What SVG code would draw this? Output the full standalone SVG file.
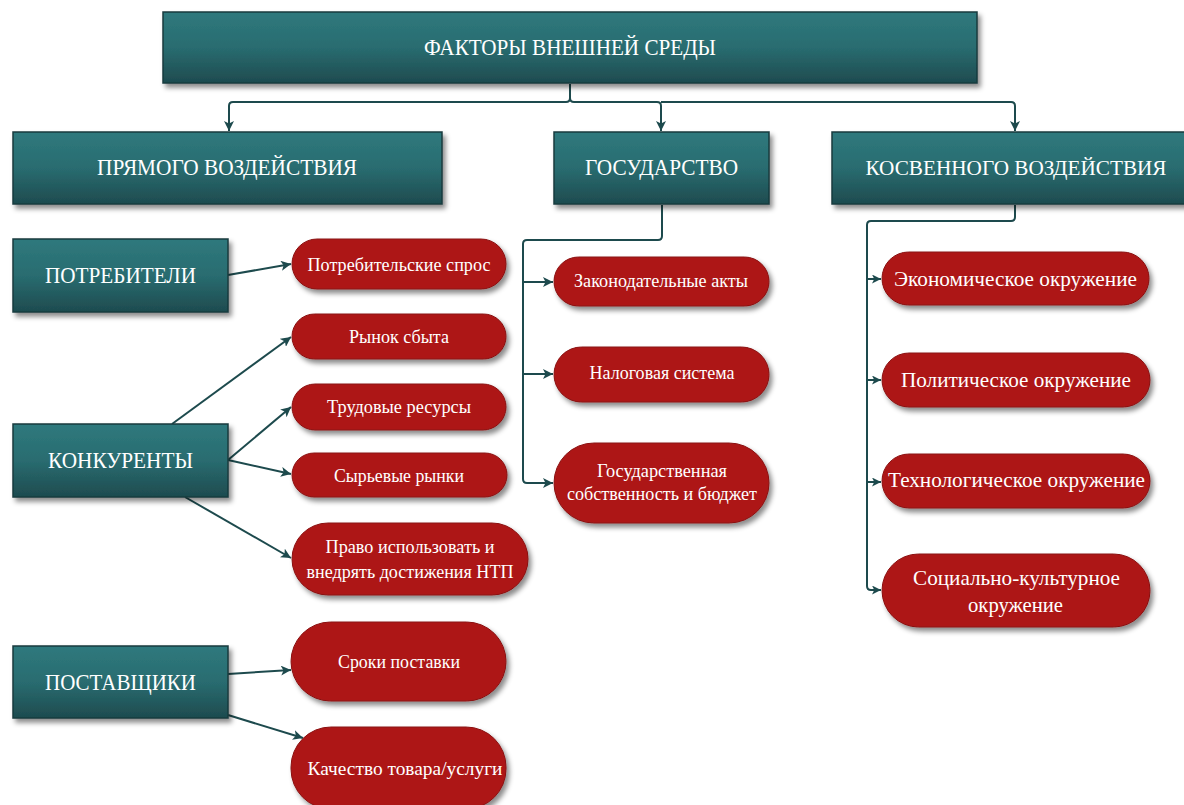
<svg xmlns="http://www.w3.org/2000/svg" width="1184" height="805" viewBox="0 0 1184 805">
<defs>
<linearGradient id="teal" x1="0" y1="0" x2="0" y2="1">
<stop offset="0" stop-color="#2f797d"/>
<stop offset="0.5" stop-color="#296c70"/>
<stop offset="1" stop-color="#1e4b4f"/>
</linearGradient>
<filter id="sh" x="-10%" y="-20%" width="125%" height="150%">
<feDropShadow dx="3" dy="4" stdDeviation="2.5" flood-color="#000" flood-opacity="0.45"/>
</filter>
<marker id="ah" viewBox="0 0 10 10" refX="10" refY="5" markerWidth="10" markerHeight="10" markerUnits="userSpaceOnUse" orient="auto">
<path d="M0,0 L10,5 L0,10 L2.5,5 Z" fill="#1d4a4d"/>
</marker>
<marker id="ahs" viewBox="0 0 10 10" refX="10" refY="5" markerWidth="9" markerHeight="9" markerUnits="userSpaceOnUse" orient="auto">
<path d="M0,0 L10,5 L0,10 L2.5,5 Z" fill="#1d4a4d"/>
</marker>
</defs>
<style>
.t{fill:url(#teal);stroke:#173b3e;stroke-width:1.5;filter:url(#sh)}
.r{fill:#ad1515;stroke:#8a1212;stroke-width:1;filter:url(#sh)}
.tt{font-family:"Liberation Serif","Times New Roman",serif;fill:#ffffff;text-anchor:middle;font-size:24px}
.rt{font-family:"Liberation Serif","Times New Roman",serif;fill:#ffffff;text-anchor:middle;font-size:18px}
.rt2{font-family:"Liberation Serif","Times New Roman",serif;fill:#ffffff;text-anchor:middle;font-size:22px}
.c{fill:none;stroke:#1d4a4d;stroke-width:2}
</style>
<rect width="1184" height="805" fill="#ffffff"/>
<g id="connectors">
<path class="c" d="M570,84 V98 Q570,102 566,102 H233 Q229,102 229,106 V131" marker-end="url(#ah)"/>
<path class="c" d="M570,98 Q570,102 574,102 H657 Q661,102 661,106 V131" marker-end="url(#ah)"/>
<path class="c" d="M661,102 H1011 Q1015,102 1015,106 V131" marker-end="url(#ah)"/>
<path class="c" d="M662,205 V236 Q662,240 658,240 H527 Q523,240 523,244 V479 Q523,483 527,483 H553" marker-end="url(#ah)"/>
<path class="c" d="M523,282 H553" marker-end="url(#ah)"/>
<path class="c" d="M523,374 H553" marker-end="url(#ah)"/>
<path class="c" d="M1015,205 V217 Q1015,221 1011,221 H871 Q867,221 867,225 V586 Q867,590 871,590 H881" marker-end="url(#ahs)"/>
<path class="c" d="M867,279 H881" marker-end="url(#ahs)"/>
<path class="c" d="M867,380 H881" marker-end="url(#ahs)"/>
<path class="c" d="M867,482 H881" marker-end="url(#ahs)"/>
<path class="c" d="M228,275 L291,264" marker-end="url(#ah)"/>
<path class="c" d="M172,424 L291,337" marker-end="url(#ah)"/>
<path class="c" d="M228,460 L291,407" marker-end="url(#ah)"/>
<path class="c" d="M228,460 L291,474" marker-end="url(#ah)"/>
<path class="c" d="M185,497 L291,558" marker-end="url(#ah)"/>
<path class="c" d="M228,674 L291,670" marker-end="url(#ah)"/>
<path class="c" d="M228,715 L303,738" marker-end="url(#ah)"/>
</g>
<g id="n-top"><rect class="t" x="163" y="12" width="814" height="71"/><text class="tt" x="570" y="55" textLength="292" lengthAdjust="spacingAndGlyphs">ФАКТОРЫ ВНЕШНЕЙ СРЕДЫ</text></g>
<g id="n-direct"><rect class="t" x="13" y="132" width="429" height="72"/><text class="tt" x="227" y="175" textLength="260" lengthAdjust="spacingAndGlyphs">ПРЯМОГО ВОЗДЕЙСТВИЯ</text></g>
<g id="n-state"><rect class="t" x="554" y="132" width="215" height="72"/><text class="tt" x="661.5" y="175" textLength="153" lengthAdjust="spacingAndGlyphs">ГОСУДАРСТВО</text></g>
<g id="n-indirect"><rect class="t" x="832" y="132" width="366" height="72"/><text class="tt" x="1016" y="175" style="font-size:21px" textLength="301" lengthAdjust="spacingAndGlyphs">КОСВЕННОГО ВОЗДЕЙСТВИЯ</text></g>
<g id="n-consumers"><rect class="t" x="13" y="239" width="215" height="73"/><text class="tt" x="120.5" y="283" textLength="151" lengthAdjust="spacingAndGlyphs">ПОТРЕБИТЕЛИ</text></g>
<g id="n-competitors"><rect class="t" x="13" y="424" width="215" height="73"/><text class="tt" x="120.5" y="468" textLength="145" lengthAdjust="spacingAndGlyphs">КОНКУРЕНТЫ</text></g>
<g id="n-suppliers"><rect class="t" x="13" y="646" width="215" height="72"/><text class="tt" x="120.5" y="690" textLength="151" lengthAdjust="spacingAndGlyphs">ПОСТАВЩИКИ</text></g>
<g id="n-demand"><rect class="r" x="292" y="239" width="214" height="50" rx="25"/><text class="rt" x="399" y="271" textLength="183" lengthAdjust="spacingAndGlyphs">Потребительские спрос</text></g>
<g id="n-market"><rect class="r" x="292" y="314" width="214" height="45" rx="22.5"/><text class="rt" x="399" y="343" textLength="100" lengthAdjust="spacingAndGlyphs">Рынок сбыта</text></g>
<g id="n-labor"><rect class="r" x="292" y="384" width="214" height="46" rx="23"/><text class="rt" x="399" y="413" textLength="144" lengthAdjust="spacingAndGlyphs">Трудовые ресурсы</text></g>
<g id="n-raw"><rect class="r" x="292" y="453" width="215" height="44" rx="22"/><text class="rt" x="399" y="482" textLength="130" lengthAdjust="spacingAndGlyphs">Сырьевые рынки</text></g>
<g id="n-right"><rect class="r" x="292" y="523" width="236" height="72" rx="36"/><text class="rt" x="410" y="553" textLength="169" lengthAdjust="spacingAndGlyphs">Право использовать и</text><text class="rt" x="410" y="578" textLength="207" lengthAdjust="spacingAndGlyphs">внедрять достижения НТП</text></g>
<g id="n-terms"><rect class="r" x="291" y="622" width="215" height="79" rx="39.5"/><text class="rt" x="399" y="668" textLength="122" lengthAdjust="spacingAndGlyphs">Сроки поставки</text></g>
<g id="n-quality"><rect class="r" x="291" y="727" width="215" height="82" rx="40"/><text class="rt" x="405" y="775" textLength="195" lengthAdjust="spacingAndGlyphs">Качество товара/услуги</text></g>
<g id="n-laws"><rect class="r" x="554" y="257" width="215" height="49" rx="24.5"/><text class="rt" x="661" y="287" textLength="174" lengthAdjust="spacingAndGlyphs">Законодательные акты</text></g>
<g id="n-tax"><rect class="r" x="554" y="347" width="215" height="55" rx="27.5"/><text class="rt" x="662" y="379" textLength="145" lengthAdjust="spacingAndGlyphs">Налоговая система</text></g>
<g id="n-budget"><rect class="r" x="554" y="443" width="215" height="80" rx="40"/><text class="rt" x="662" y="477" textLength="130" lengthAdjust="spacingAndGlyphs">Государственная</text><text class="rt" x="662" y="500" textLength="190" lengthAdjust="spacingAndGlyphs">собственность и бюджет</text></g>
<g id="n-econ"><rect class="r" x="882" y="252" width="267" height="53" rx="26.5"/><text class="rt2" x="1015.5" y="286" textLength="243" lengthAdjust="spacingAndGlyphs">Экономическое окружение</text></g>
<g id="n-polit"><rect class="r" x="882" y="353" width="268" height="54" rx="27"/><text class="rt2" x="1016" y="387" textLength="230" lengthAdjust="spacingAndGlyphs">Политическое окружение</text></g>
<g id="n-tech"><rect class="r" x="882" y="454" width="268" height="54" rx="27"/><text class="rt2" x="1016.5" y="487" textLength="257" lengthAdjust="spacingAndGlyphs">Технологическое окружение</text></g>
<g id="n-social"><rect class="r" x="882" y="554" width="268" height="73" rx="36.5"/><text class="rt2" x="1016.5" y="585" textLength="207" lengthAdjust="spacingAndGlyphs">Социально-культурное</text><text class="rt2" x="1015.5" y="612" textLength="95" lengthAdjust="spacingAndGlyphs">окружение</text></g>
</svg>
